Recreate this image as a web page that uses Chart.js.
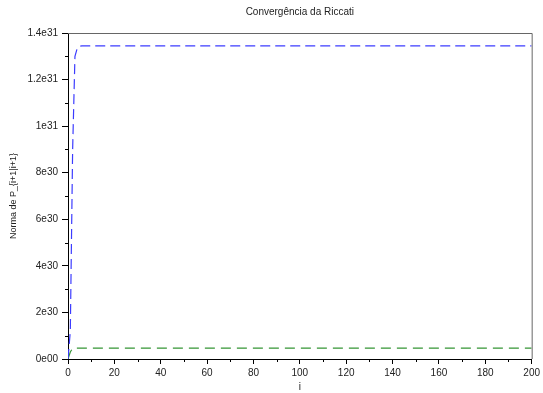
<!DOCTYPE html>
<html>
<head>
<meta charset="utf-8">
<script src="https://cdn.jsdelivr.net/npm/chart.js@4.4.1/dist/chart.umd.min.js"></script>
<style>
  html, body { margin: 0; padding: 0; background: #fff; }
  #wrap { width: 543px; height: 393px; }
</style>
</head>
<body>
<div id="wrap"><canvas id="c"></canvas></div>
<script>
// --- dados ---
const iAzul = [0, 1, 2, 3, 4, 5, 6, 200];
const normaAzul = [0, 1.2e30, 9e30, 13.0e30, 13.35e30, 13.43e30, 13.45e30, 13.45e30];
const iVerde = [0, 1, 2, 3, 200];
const normaVerde = [0, 0.3e30, 0.46e30, 0.47e30, 0.47e30];

const xTicks = [0, 20, 40, 60, 80, 100, 120, 140, 160, 180, 200];
const yTicks = [0, 2e30, 4e30, 6e30, 8e30, 1e31, 1.2e31, 1.4e31];
const yTickLabels = ["0e00", "2e30", "4e30", "6e30", "8e30", "1e31", "1.2e31", "1.4e31"];

const font = { family: "Liberation Sans, Arial, sans-serif", size: 10 };
const txt = "#222";

// moldura e ticks menores (estilo Scilab)
const frame = {
  id: "frame",
  afterDraw(chart) {
    const { ctx, chartArea: a, scales } = chart;
    ctx.save();
    ctx.strokeStyle = "#666";
    ctx.lineWidth = 1;
    ctx.beginPath();
    ctx.moveTo(a.left, a.top + 0.5);
    ctx.lineTo(a.right + 0.5, a.top + 0.5);
    ctx.lineTo(a.right + 0.5, a.bottom);
    ctx.stroke();
    ctx.strokeStyle = "#000";
    ctx.beginPath();
    for (let k = 0; k < xTicks.length - 1; k++) {
      const x = Math.round(scales.x.getPixelForValue((xTicks[k] + xTicks[k + 1]) / 2)) + 0.5;
      ctx.moveTo(x, a.bottom);
      ctx.lineTo(x, a.bottom + 3);
    }
    for (let k = 0; k < yTicks.length - 1; k++) {
      const y = Math.round(scales.y.getPixelForValue((yTicks[k] + yTicks[k + 1]) / 2)) + 0.5;
      ctx.moveTo(a.left, y);
      ctx.lineTo(a.left - 3, y);
    }
    ctx.stroke();
    ctx.restore();
  }
};

new Chart(document.getElementById("c"), {
  type: "line",
  data: {
    datasets: [
      {
        data: iAzul.map((x, k) => ({ x: x, y: normaAzul[k] })),
        borderColor: "#3c3cff",
        borderWidth: 1.2,
        borderDash: [10, 5],
        pointRadius: 0,
        tension: 0
      },
      {
        data: iVerde.map((x, k) => ({ x: x, y: normaVerde[k] })),
        borderColor: "#359535",
        borderWidth: 1.2,
        borderDash: [10, 6],
        pointRadius: 0,
        tension: 0
      }
    ]
  },
  plugins: [frame],
  options: {
    responsive: true,
    maintainAspectRatio: false,
    animation: false,
    layout: { padding: { left: 0, right: 11, top: 0, bottom: 0 } },
    plugins: {
      legend: { display: false },
      tooltip: { enabled: false },
      title: {
        display: true,
        text: "Convergência da Riccati",
        fullSize: false,
        color: txt,
        font: { family: font.family, size: 10, weight: "normal" },
        padding: { top: 6, bottom: 15 }
      }
    },
    scales: {
      x: {
        type: "linear",
        min: 0,
        max: 200,
        afterBuildTicks(s) { s.ticks = xTicks.map(v => ({ value: v })); },
        afterFit(s) { s.height = 34; },
        grid: { drawOnChartArea: false, tickLength: 5, color: "#000" },
        border: { color: "#000" },
        ticks: { color: txt, font: font, padding: 3, maxRotation: 0 },
        title: { display: true, text: "i", color: txt, font: font, padding: { top: 1, bottom: 0 } }
      },
      y: {
        min: 0,
        max: 1.4e31,
        afterBuildTicks(s) { s.ticks = yTicks.map(v => ({ value: v })); },
        afterFit(s) { s.width = 68; },
        grid: { drawOnChartArea: false, tickLength: 6, color: "#000" },
        border: { color: "#000" },
        ticks: {
          color: txt, font: font, padding: 4,
          callback: (v, k) => yTickLabels[k]
        },
        title: { display: true, text: "Norma de P_{i+1|i+1}", color: txt, font: { family: font.family, size: 9 }, padding: { top: 8, bottom: 0 } }
      }
    }
  }
});
</script>
</body>
</html>
